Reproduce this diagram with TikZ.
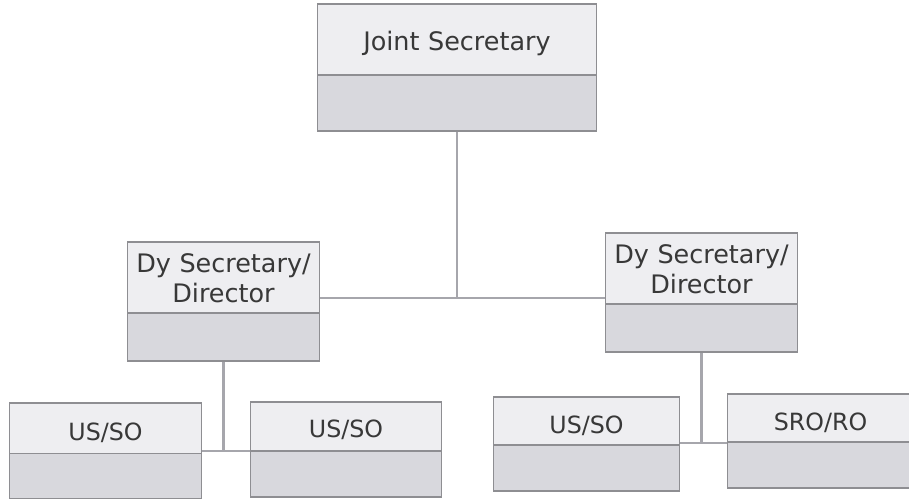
\documentclass[tikz,border=0pt]{standalone}
\usepackage{fontspec}
\setmainfont{DejaVu Sans}
\usetikzlibrary{shapes.multipart}
\definecolor{boxtop}{HTML}{EEEEF1}
\definecolor{boxbot}{HTML}{D8D8DD}
\definecolor{boxline}{HTML}{8E8E92}
\definecolor{linkline}{HTML}{A6A6AC}
\definecolor{boxtext}{HTML}{383838}
\tikzset{
  post/.style={rectangle split, rectangle split parts=2, draw=boxline, line width=0.8pt,
    rectangle split part fill={boxtop,boxbot}, inner xsep=0pt, inner ysep=0pt,
    align=center, text=boxtext},
  upper/.style={post, font=\fontsize{14.5}{17}\selectfont},
  lower/.style={post, font=\fontsize{13.5}{16}\selectfont},
  link/.style={draw=linkline, line width=1.4pt}
}
\begin{document}
\begin{tikzpicture}[x=0.02cm,y=-0.02cm]
\useasboundingbox (0,0) rectangle (909,499);
% top
\node[upper, text width=159pt] (js) at (457,67.5)
  {\rule[-13.4pt]{0pt}{39.7pt}Joint Secretary\nodepart{two}\rule{0pt}{31pt}};
% second level
\node[upper, text width=109pt] (dyl) at (223.5,301.5)
  {\rule{0pt}{17pt}Dy Secretary/\\Director\rule[-5.7pt]{0pt}{5.7pt}\nodepart{two}\rule{0pt}{26.6pt}};
\node[upper, text width=109pt] (dyr) at (701.5,292.5)
  {\rule{0pt}{17pt}Dy Secretary/\\Director\rule[-5.7pt]{0pt}{5.7pt}\nodepart{two}\rule{0pt}{26.6pt}};
% third level
\node[lower, text width=109pt] (usa) at (105.5,451)
  {\rule[-7pt]{0pt}{28pt}US/SO\nodepart{two}\rule{0pt}{25pt}};
\node[lower, text width=109pt] (usb) at (346,449.5)
  {\rule[-7pt]{0pt}{27pt}US/SO\nodepart{two}\rule{0pt}{25.5pt}};
\node[lower, text width=106pt] (usc) at (586.5,444)
  {\rule[-6pt]{0pt}{26.6pt}US/SO\nodepart{two}\rule{0pt}{25.5pt}};
\node[lower, text width=106pt] (sro) at (820.5,441)
  {\rule[-6pt]{0pt}{26.6pt}SRO/RO\nodepart{two}\rule{0pt}{25.5pt}};
% branch points
\coordinate (hubtop) at (462,298);
\coordinate (hubleft) at (226,451);
\coordinate (hubright) at (704,443);
% links
\draw[link] (dyl.east |- hubtop) -- (dyr.west |- hubtop);
\draw[link] (js.south) -- (js.south |- hubtop);
\draw[link] (usa.east |- hubleft) -- (usb.west |- hubleft);
\draw[link] (dyl.south) -- (dyl.south |- hubleft);
\draw[link] (usc.east |- hubright) -- (sro.west |- hubright);
\draw[link] (dyr.south) -- (dyr.south |- hubright);
\end{tikzpicture}
\end{document}
